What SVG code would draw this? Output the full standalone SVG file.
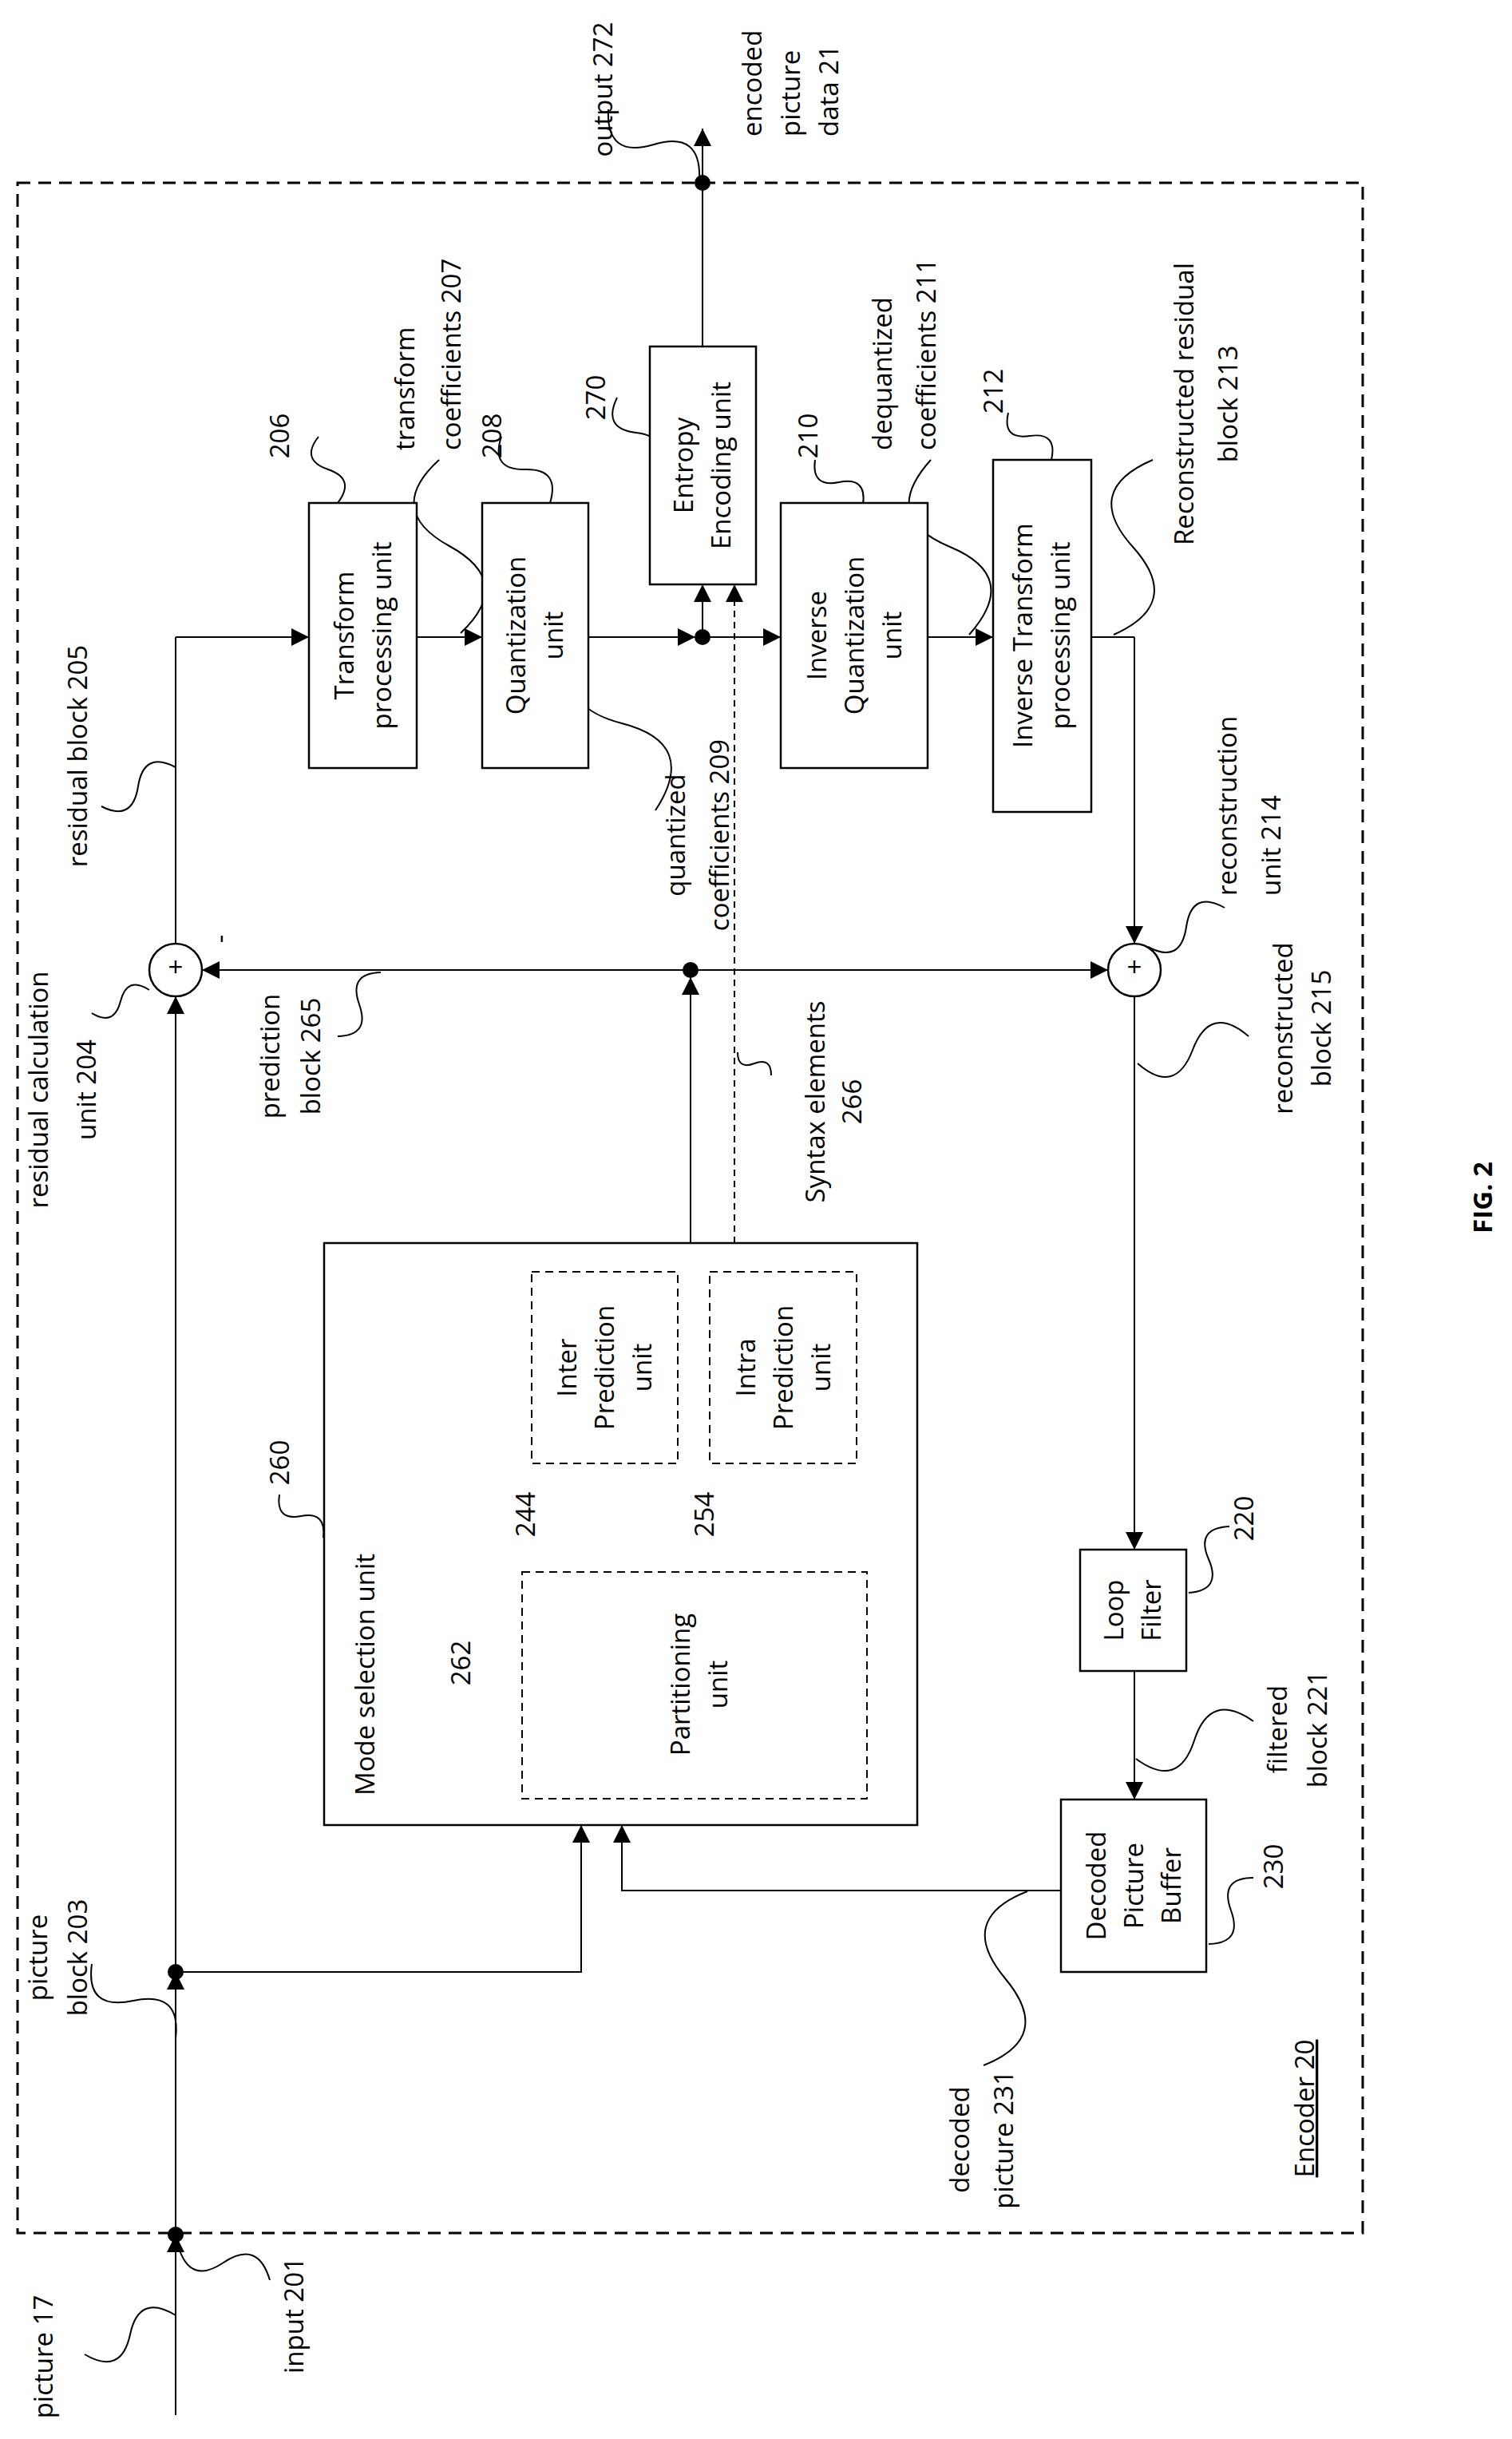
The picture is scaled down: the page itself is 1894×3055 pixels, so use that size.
<svg xmlns="http://www.w3.org/2000/svg" width="1894" height="3055" viewBox="0 0 1894 3055">
<defs>
<marker id="ah" viewBox="0 0 10 10" refX="10" refY="5" markerWidth="22" markerHeight="22" markerUnits="userSpaceOnUse" orient="auto"><path d="M0,0 L10,5 L0,10 z" fill="#000"/></marker>
<style>
.ln{stroke:#000;stroke-width:2;fill:none}
.ar{stroke:#000;stroke-width:2;fill:none;marker-end:url(#ah)}
.da{stroke:#000;stroke-width:2;fill:none;stroke-dasharray:8,6}
.box{stroke:#000;stroke-width:2.5;fill:#fff}
.dbox{stroke:#000;stroke-width:2;fill:none;stroke-dasharray:10,7}
.sq{stroke:#000;stroke-width:2;fill:none}
text{font-family:"Open Sans","Liberation Sans",sans-serif;font-size:33px;fill:#000}
.c{text-anchor:middle}
</style>
</defs>
<rect width="1894" height="3055" fill="#fff"/>
<rect x="22" y="229" width="1685" height="2568" fill="none" stroke="#000" stroke-width="3" stroke-dasharray="16,10"/>
<g id="connectors">
<path class="ar" d="M220,3025 L220,2799"/>
<path class="ar" d="M220,2799 L220,2470"/>
<path class="ar" d="M220,2470 L220,1248"/>
<path class="ln" d="M220,1182 L220,798"/>
<path class="ar" d="M220,798 L387,798"/>
<path class="ar" d="M522,798 L604,798"/>
<path class="ar" d="M737,798 L871,798"/>
<path class="ar" d="M880,798 L978,798"/>
<path class="ar" d="M880,798 L880,732"/>
<path class="da" d="M920,1557 L920,745"/>
<path class="ar" d="M920,750 L920,732"/>
<path class="ar" d="M1162,798 L1244,798"/>
<path class="ar" d="M880,434 L880,161"/>
<path class="ln" d="M1367,798 L1421,798"/>
<path class="ar" d="M1421,798 L1421,1182"/>
<path class="ar" d="M865,1215 L253,1215"/>
<path class="ar" d="M865,1215 L1388,1215"/>
<path class="ar" d="M865,1557 L865,1224"/>
<path class="ar" d="M1421,1248 L1421,1941"/>
<path class="ar" d="M1421,2093 L1421,2254"/>
<path class="ar" d="M220,2470 L728,2470 L728,2286"/>
<path class="ar" d="M1329,2368 L779,2368 L779,2286"/>
<circle cx="880" cy="229" r="10"/>
<circle cx="880" cy="798" r="10"/>
<circle cx="865" cy="1215" r="10"/>
<circle cx="220" cy="2470" r="10"/>
<circle cx="220" cy="2799" r="10"/>
</g>
<g id="leaders">
<path class="sq" d="M762,137 Q759,199 819,181 T876,226"/>
<path class="sq" d="M399,547 Q376,576 411,588 T423,630"/>
<path class="sq" d="M550,576 Q481,639 563,684 T577,793"/>
<path class="sq" d="M628,547 Q614,589 658,588 T689,630"/>
<path class="sq" d="M773,498 Q754,537 797,542 T821,586"/>
<path class="sq" d="M1021,576 Q1016,611 1051,604 T1081,632"/>
<path class="sq" d="M1166,576 Q1101,648 1190,685 T1214,795"/>
<path class="sq" d="M1263,517 Q1255,551 1290,546 T1317,576"/>
<path class="sq" d="M1444,576 Q1355,614 1419,685 T1395,795"/>
<path class="sq" d="M737,798 Q682,881 779,906 T821,1015"/>
<path class="sq" d="M220,961 Q180,940 173,985 T127,1010"/>
<path class="sq" d="M187,1240 Q159,1222 151,1254 T115,1269"/>
<path class="sq" d="M477,1218 Q436,1219 450,1258 T423,1298"/>
<path class="sq" d="M924,1318 Q924,1340 945,1332 T966,1347"/>
<path class="sq" d="M1438,1186 Q1479,1208 1486,1161 T1534,1137"/>
<path class="sq" d="M1425,1332 Q1472,1373 1494,1315 T1564,1298"/>
<path class="sq" d="M350,1872 Q345,1905 377,1899 T405,1926"/>
<path class="sq" d="M676,1897 Q714,1899 703,1862 T731,1828"/>
<path class="sq" d="M900,1897 Q939,1901 930,1862 T960,1828"/>
<path class="sq" d="M598,2073 Q628,2080 625,2048 T652,2024"/>
<path class="sq" d="M1489,1995 Q1531,1992 1514,1953 T1540,1912"/>
<path class="sq" d="M1423,2203 Q1476,2242 1496,2180 T1570,2156"/>
<path class="sq" d="M1514,2435 Q1557,2434 1542,2393 T1570,2352"/>
<path class="sq" d="M1287,2369 Q1197,2404 1259,2478 T1232,2587"/>
<path class="sq" d="M220,2553 Q227,2493 167,2506 T115,2460"/>
<path class="sq" d="M223,2812 Q237,2863 280,2834 T338,2856"/>
<path class="sq" d="M220,2900 Q174,2872 163,2924 T106,2949"/>
</g>
<g id="residual-calc-204"><circle cx="220" cy="1215" r="33" fill="#fff" stroke="#000" stroke-width="2.5"/><text x="220" y="1223" class="c" font-size="22">+</text></g>
<g id="recon-214"><circle cx="1421" cy="1215" r="33" fill="#fff" stroke="#000" stroke-width="2.5"/><text x="1421" y="1223" class="c" font-size="22">+</text></g>
<g id="transform-206"><rect class="box" x="387" y="630" width="135" height="332"/><text class="c" transform="translate(455,796) rotate(-90)"><tspan x="0" y="-12">Transform</tspan><tspan x="0" y="35">processing unit</tspan></text></g>
<g id="quant-208"><rect class="box" x="604" y="630" width="133" height="332"/><text class="c" transform="translate(670,796) rotate(-90)"><tspan x="0" y="-12">Quantization</tspan><tspan x="0" y="35">unit</tspan></text></g>
<g id="entropy-270"><rect class="box" x="814" y="434" width="133" height="298"/><text class="c" transform="translate(880,583) rotate(-90)"><tspan x="0" y="-12">Entropy</tspan><tspan x="0" y="35">Encoding unit</tspan></text></g>
<g id="invquant-210"><rect class="box" x="978" y="630" width="184" height="332"/><text class="c" transform="translate(1070,796) rotate(-90)"><tspan x="0" y="-35">Inverse</tspan><tspan x="0" y="12">Quantization</tspan><tspan x="0" y="59">unit</tspan></text></g>
<g id="invtrans-212"><rect class="box" x="1244" y="576" width="123" height="441"/><text class="c" transform="translate(1305,796) rotate(-90)"><tspan x="0" y="-12">Inverse Transform</tspan><tspan x="0" y="35">processing unit</tspan></text></g>
<g id="mode-260"><rect class="box" x="406" y="1557" width="743" height="729"/><text transform="translate(457,2249) rotate(-90)" x="0" y="12">Mode selection unit</text></g>
<g id="inter-244"><rect class="dbox" x="666" y="1593" width="183" height="240"/><text class="c" transform="translate(757,1713) rotate(-90)"><tspan x="0" y="-35">Inter</tspan><tspan x="0" y="12">Prediction</tspan><tspan x="0" y="59">unit</tspan></text></g>
<g id="intra-254"><rect class="dbox" x="889" y="1593" width="184" height="240"/><text class="c" transform="translate(981,1713) rotate(-90)"><tspan x="0" y="-35">Intra</tspan><tspan x="0" y="12">Prediction</tspan><tspan x="0" y="59">unit</tspan></text></g>
<g id="partition-262"><rect class="dbox" x="654" y="1969" width="432" height="284"/><text class="c" transform="translate(876,2110) rotate(-90)"><tspan x="0" y="-12">Partitioning</tspan><tspan x="0" y="35">unit</tspan></text></g>
<g id="loop-220"><rect class="box" x="1353" y="1941" width="133" height="152"/><text class="c" transform="translate(1419,2017) rotate(-90)"><tspan x="0" y="-12">Loop</tspan><tspan x="0" y="35">Filter</tspan></text></g>
<g id="dpb-230"><rect class="box" x="1329" y="2254" width="182" height="216"/><text class="c" transform="translate(1420,2362) rotate(-90)"><tspan x="0" y="-35">Decoded</tspan><tspan x="0" y="12">Picture</tspan><tspan x="0" y="59">Buffer</tspan></text></g>
<g id="labels">
<text transform="translate(755,112) rotate(-90)" class="c" x="0" y="12">output 272</text>
<text transform="translate(990,171) rotate(-90)"><tspan x="0" y="-36">encoded</tspan><tspan x="0" y="12">picture</tspan><tspan x="0" y="60">data 21</tspan></text>
<text transform="translate(536,564) rotate(-90)"><tspan x="0" y="-17">transform</tspan><tspan x="0" y="41">coefficients 207</tspan></text>
<text transform="translate(350,546) rotate(-90)" class="c" x="0" y="12">206</text>
<text transform="translate(616,546) rotate(-90)" class="c" x="0" y="12">208</text>
<text transform="translate(746,498) rotate(-90)" class="c" x="0" y="12">270</text>
<text transform="translate(1012,546) rotate(-90)" class="c" x="0" y="12">210</text>
<text transform="translate(1132,564) rotate(-90)"><tspan x="0" y="-15">dequantized</tspan><tspan x="0" y="40">coefficients 211</tspan></text>
<text transform="translate(1244,490) rotate(-90)" class="c" x="0" y="12">212</text>
<text transform="translate(1510,506) rotate(-90)" class="c"><tspan x="0" y="-15">Reconstructed residual</tspan><tspan x="0" y="40">block 213</tspan></text>
<text transform="translate(97,947) rotate(-90)" class="c" x="0" y="12">residual block 205</text>
<text transform="translate(873,1046) rotate(-90)" class="c"><tspan x="0" y="-15">quantized</tspan><tspan x="0" y="40">coefficients 209</tspan></text>
<text transform="translate(78,1365) rotate(-90)" class="c"><tspan x="0" y="-18">residual calculation</tspan><tspan x="0" y="42">unit 204</tspan></text>
<text transform="translate(275,1176) rotate(-90)" class="c" x="0" y="12">-</text>
<text transform="translate(363,1323) rotate(-90)" class="c"><tspan x="0" y="-13">prediction</tspan><tspan x="0" y="38">block 265</tspan></text>
<text transform="translate(1043,1380) rotate(-90)" class="c"><tspan x="0" y="-10">Syntax elements</tspan><tspan x="0" y="36">266</tspan></text>
<text transform="translate(1564,1122) rotate(-90)"><tspan x="0" y="-15">reconstruction</tspan><tspan x="0" y="40">unit 214</tspan></text>
<text transform="translate(1631,1288) rotate(-90)" class="c"><tspan x="0" y="-12">reconstructed</tspan><tspan x="0" y="36">block 215</tspan></text>
<text transform="translate(350,1832) rotate(-90)" class="c" x="0" y="12">260</text>
<text transform="translate(658,1897) rotate(-90)" class="c" x="0" y="12">244</text>
<text transform="translate(882,1897) rotate(-90)" class="c" x="0" y="12">254</text>
<text transform="translate(577,2083) rotate(-90)" class="c" x="0" y="12">262</text>
<text transform="translate(1558,1902) rotate(-90)" class="c" x="0" y="12">220</text>
<text transform="translate(1625,2166) rotate(-90)" class="c"><tspan x="0" y="-13">filtered</tspan><tspan x="0" y="37">block 221</tspan></text>
<text transform="translate(1595,2338) rotate(-90)" class="c" x="0" y="12">230</text>
<text transform="translate(1229,2680) rotate(-90)" class="c"><tspan x="0" y="-15">decoded</tspan><tspan x="0" y="40">picture 231</tspan></text>
<text transform="translate(72,2452) rotate(-90)" class="c"><tspan x="0" y="-13">picture</tspan><tspan x="0" y="37">block 203</tspan></text>
<text transform="translate(368,2900) rotate(-90)" class="c" x="0" y="12">input 201</text>
<text transform="translate(54,2952) rotate(-90)" class="c" x="0" y="12">picture 17</text>
<text transform="translate(1633,2641) rotate(-90)" class="c" x="0" y="13" font-size="38" text-decoration="underline">Encoder 20</text>
<text transform="translate(1855,1500) rotate(-90)" class="c" x="0" y="14" font-size="40" font-weight="bold">FIG. 2</text>
</g>
</svg>
